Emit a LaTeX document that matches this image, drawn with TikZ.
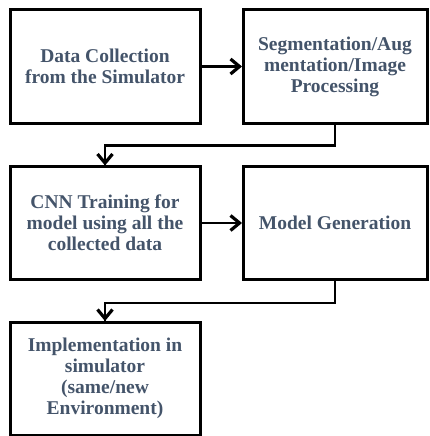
\documentclass[tikz,border=0pt]{standalone}
\usepackage{fontspec}
\usetikzlibrary{arrows.meta}
\setmainfont{Liberation Serif}[BoldFont={Liberation Serif Bold}]
\definecolor{slate}{HTML}{44546A}
\tikzset{
  stepbox/.style={draw=black, line width=3pt, fill=white, inner sep=0pt,
    minimum width=#1, minimum height=113pt, align=center,
    font=\bfseries\fontsize{19.5}{21}\selectfont, text=slate},
  conn/.style={draw=black, line width=2.6pt},
  % bold chevron heads, tip at the origin
  headright/.pic={\draw[line width=3.2pt, line cap=butt, line join=miter]
      (-11,-7.5) -- (-2,0) -- (-11,7.5);},
  headdown/.pic={\draw[line width=3.2pt, line cap=butt, line join=miter]
      (-7.5,-11) -- (0,-2) -- (7.5,-11);},
}
\begin{document}
\begin{tikzpicture}[x=1pt,y=-1pt]
  \useasboundingbox (0,0) rectangle (430,436);
  % pipeline stages
  \node[stepbox=190pt] (b1) at (105,66.5) {Data Collection\\from the Simulator};
  \node[stepbox=184pt] (b2) at (335,66.5) {Segmentation/Aug\\mentation/Image\\Processing};
  \node[stepbox=190pt] (b3) at (105,223) {CNN Training for\\model using all the\\collected data};
  \node[stepbox=184pt] (b4) at (335,223) {Model Generation};
  \node[stepbox=190pt] (b5) at (105,378.5) {Implementation in\\simulator\\(same/new\\Environment)};
  % connectors
  \draw[conn] (b1.east) -- ([xshift=-3pt]b2.west);
  \draw[conn] (b2.south) -- ++(0,21) -| ([yshift=-3pt]b3.north);
  \draw[conn] (b3.east) -- ([xshift=-3pt]b4.west);
  \draw[conn] (b4.south) -- ++(0,22) -| ([yshift=-3pt]b5.north);
  % arrow heads
  \pic at (b2.west) {headright};
  \pic at (b4.west) {headright};
  \pic at (b3.north) {headdown};
  \pic at (b5.north) {headdown};
\end{tikzpicture}
\end{document}
